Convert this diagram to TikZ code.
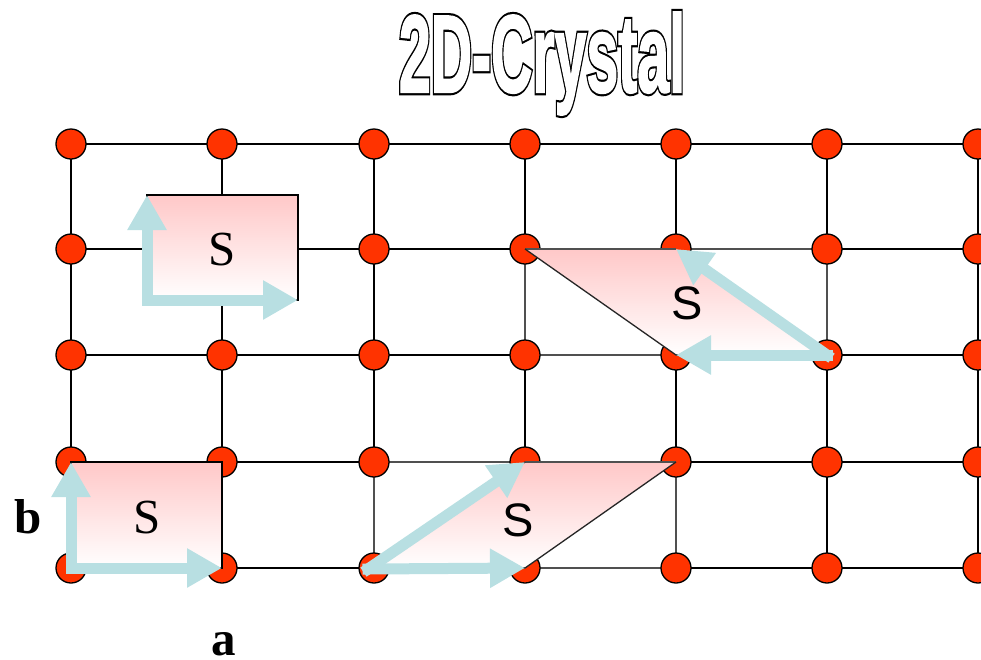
\documentclass[tikz,border=0pt]{standalone}
\usepackage{fontspec}
\setmainfont{Liberation Serif}
\newfontfamily\sansf{Liberation Sans}
\newfontfamily\titleout{Liberation Sans Bold}[FakeBold=6]
\newfontfamily\titlein{Liberation Sans Bold}[FakeBold=2]
\usetikzlibrary{arrows.meta,calc}
\definecolor{dotred}{HTML}{FF3300}
\definecolor{arrowblue}{HTML}{B8DFE2}
\definecolor{pinktop}{HTML}{FFC8C8}
\definecolor{rectgray}{HTML}{505050}
\begin{document}
\begin{tikzpicture}[x=1pt,y=-1pt,
  gridline/.style={line width=1.8pt,black},
  latdot/.style={circle,fill=dotred,draw=black,line width=1.3pt,minimum size=30pt,inner sep=0pt},
  cellbox/.style={top color=pinktop,bottom color=white,draw=black,line width=1.4pt},
  pinkpar/.style={top color=pinktop,bottom color=white},
  pardiag/.style={draw=black!85,line width=1.3pt},
  whiterect/.style={fill=white,draw=rectgray,line width=2.2pt},
  vec/.style={draw=arrowblue,line width=11pt,line cap=rect,-{Triangle[length=35pt,width=37pt]}},
  serifS/.style={inner sep=0pt,font=\fontsize{49}{49}\selectfont},
  sansS/.style={inner sep=0pt,font=\sansf\fontsize{47}{47}\selectfont},
  axlabel/.style={inner sep=0pt,font=\bfseries\fontsize{49}{49}\selectfont},
  titletext/.style={anchor=base,inner sep=0pt,font=\fontsize{110}{110}\selectfont}
]
\useasboundingbox (0,0) rectangle (981,659);
% lattice coordinates
\foreach \x [count=\i from 0] in {71,222,374,525,676,827,978}{
  \foreach \y [count=\j from 0] in {144,249,355,462,568}{
    \coordinate (g-\i-\j) at (\x,\y);
  }
}
% grid lines
\foreach \j in {0,...,4}{\draw[gridline] (g-0-\j) -- (g-6-\j);}
\foreach \i in {0,...,6}{\draw[gridline] (g-\i-0) -- (g-\i-4);}
% white rectangles behind the oblique cells
\draw[whiterect] (g-3-1) rectangle (g-5-2);
\draw[whiterect] (g-2-3) rectangle (g-4-4);
% lattice points
\foreach \i in {0,...,6}{
  \foreach \j in {0,...,4}{
    \node[latdot] (d-\i-\j) at (g-\i-\j) {};
  }
}
% rectangular cells
\coordinate (b1tl) at (147,195);
\coordinate (b1br) at (298,300);
\coordinate (b1bl) at (147,300);
\draw[cellbox] (b1tl) rectangle (b1br);
\draw[cellbox] (g-0-3) rectangle (g-1-4);
% oblique cells
\shade[pinkpar] (g-3-1) -- (g-4-1) -- (g-5-2) -- (g-4-2) -- cycle;
\draw[rectgray,line width=2.2pt] (g-3-1) -- (g-4-1) (g-5-2) -- (g-4-2);
\draw[pardiag] (g-3-1) -- (g-4-2);
\shade[pinkpar] (g-2-4) -- (g-3-4) -- (g-4-3) -- (g-3-3) -- cycle;
\draw[rectgray,line width=2.2pt] (g-2-4) -- (g-3-4) (g-4-3) -- (g-3-3);
\draw[pardiag] (g-2-4) -- (g-3-3) (g-3-4) -- (g-4-3);
% basis vectors
\coordinate (o4) at ($(g-2-4)+(-6,1)$);
\draw[vec] (b1bl) -- (b1tl);
\draw[vec] (b1bl) -- (b1br);
\draw[vec] (g-0-4) -- (g-0-3);
\draw[vec] (g-0-4) -- (g-1-4);
\draw[vec] (g-5-2) -- (g-4-2);
\draw[vec] (g-5-2) -- (g-4-1);
\draw[vec] (o4) -- (g-3-4);
\draw[vec] (o4) -- (g-3-3);
% cell labels
\node[serifS] (s1) at (222,250) {S};
\node[serifS] (s2) at (147,518) {S};
\node[sansS] (s3) at (687,303) {S};
\node[sansS] (s4) at (518,520) {S};
% axis labels
\node[axlabel] (lb) at (28,517) {b};
\node[axlabel] (la) at (224,644) {a};
% title: black emboldened layer under a white layer gives an outline
\node[titletext,text=black] (titlebg) at (542,92) {\titleout\scalebox{0.52}[1]{2D-Crystal}};
\node[titletext,text=white] (title) at (542,92) {\titlein\scalebox{0.52}[1]{2D-Crystal}};
\end{tikzpicture}
\end{document}
